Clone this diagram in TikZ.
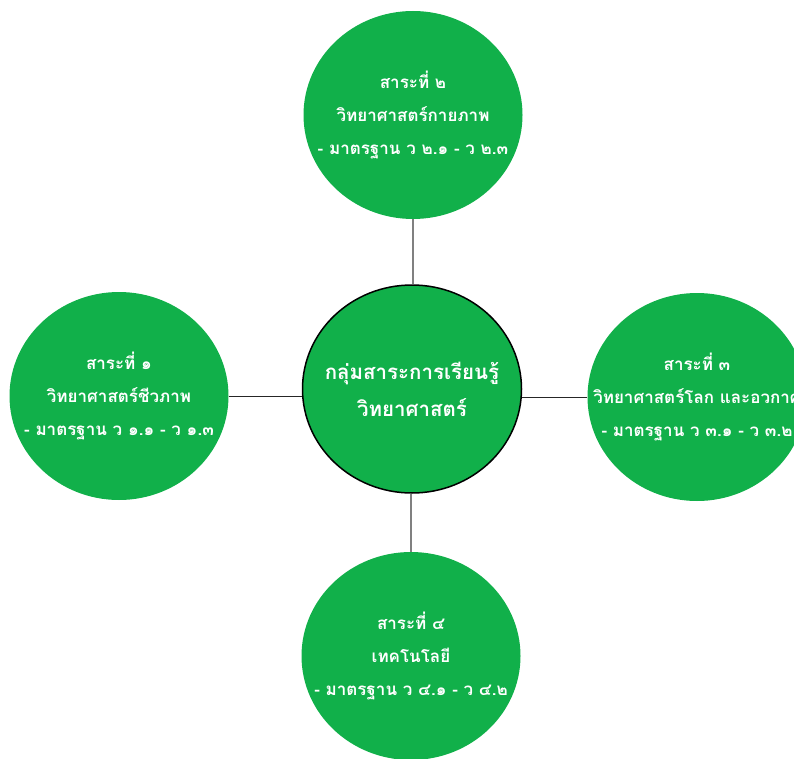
\documentclass[tikz,border=0pt]{standalone}
\usepackage{fontspec}
\newfontfamily\thaifont[Script=Thai]{Loma}
\usetikzlibrary{shapes.geometric}
\definecolor{leafgreen}{RGB}{17,176,74}

\begin{document}
\begin{tikzpicture}[x=1pt, y=-1pt,
    bubble/.style={ellipse, fill=leafgreen, minimum width=219pt, minimum height=208pt, inner sep=0pt},
    bubtext/.style={align=center, text=white, inner sep=0pt, font=\thaifont\bfseries\fontsize{17}{33}\selectfont}]
    \useasboundingbox (0,0) rectangle (794,759);

    % Draw the middle circle
    \node[bubble, draw=black, line width=1.5pt,
        label={[bubtext, font=\thaifont\bfseries\fontsize{20.5}{37}\selectfont]center:กลุ่มสาระการเรียนรู้\\วิทยาศาสตร์}]
        (M) at (412,389) {};

    % Draw the four outer circles
    \node[bubble, label={[bubtext]center:สาระที่ ๑\\วิทยาศาสตร์ชีวภาพ\\- มาตรฐาน ว ๑.๑ - ว ๑.๓}] (S1) at (119,396) {};
    \node[bubble, label={[bubtext]center:สาระที่ ๒\\วิทยาศาสตร์กายภาพ\\- มาตรฐาน ว ๒.๑ - ว ๒.๓}] (S2) at (413,115) {};
    \node[bubble, label={[bubtext]center:สาระที่ ๓\\วิทยาศาสตร์โลก และอวกาศ\\- มาตรฐาน ว ๓.๑ - ว ๓.๒}] (S3) at (697,397) {};
    \node[bubble, label={[bubtext]center:สาระที่ ๔\\เทคโนโลยี\\- มาตรฐาน ว ๔.๑ - ว ๔.๒}] (S4) at (411,656) {};

    % Draw the connecting lines
    \draw[gray, line width=1.2pt] (S2) -- (S2 |- M.north);
    \draw[gray, line width=1.2pt] (S4) -- (S4 |- M.south);
    \draw[black!85, line width=1pt] (S1) -- (S1 -| M.west);
    \draw[black!85, line width=1pt] (S3) -- (S3 -| M.east);
\end{tikzpicture}
\end{document}
